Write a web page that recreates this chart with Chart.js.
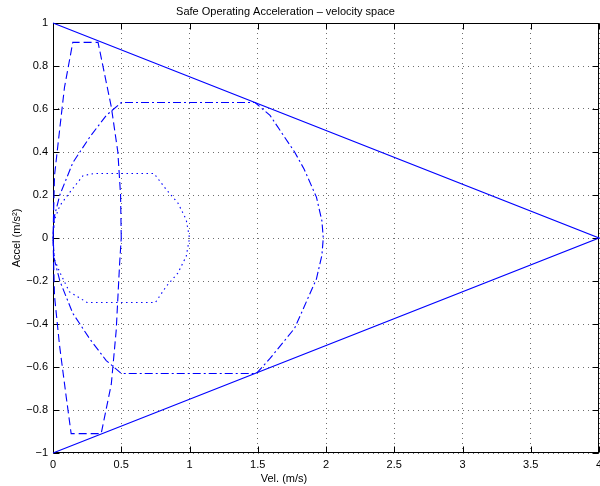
<!DOCTYPE html>
<html>
<head>
<meta charset="utf-8">
<script src="https://cdn.jsdelivr.net/npm/chart.js@4.4.0/dist/chart.umd.min.js"></script>
<style>
html, body { margin: 0; padding: 0; background: #fff; }
canvas { display: block; }
</style>
</head>
<body>
<canvas id="chart" width="600" height="486" style="width:600px;height:486px"></canvas>
<script>
const chartTitle = 'Safe Operating Acceleration \u2013 velocity space';
const xAxisLabel = 'Vel. (m/s)';
const yAxisLabel = 'Accel (m/s\u00b2)';

const xTicks = [0, 0.5, 1, 1.5, 2, 2.5, 3, 3.5, 4];
const xTickLabels = ['0', '0.5', '1', '1.5', '2', '2.5', '3', '3.5', '4'];
const yTicks = [-1, -0.8, -0.6, -0.4, -0.2, 0, 0.2, 0.4, 0.6, 0.8, 1];
const yTickLabels = ['\u22121', '\u22120.8', '\u22120.6', '\u22120.4', '\u22120.2', '0', '0.2', '0.4', '0.6', '0.8', '1'];

// solid envelope (triangle)
const envelopeVel = [0, 4, 0];
const envelopeAcc = [1, 0, -1];

// dashed region
const dashedVel = [0.5, 0.495, 0.475, 0.427, 0.33, 0.145, 0.084, 0.048, 0.011, 0, 0.011, 0.048, 0.097, 0.133, 0.353, 0.427, 0.463, 0.488, 0.5];
const dashedAcc = [0, 0.2, 0.4, 0.61, 0.91, 0.91, 0.7, 0.5, 0.29, 0, -0.27, -0.5, -0.74, -0.91, -0.91, -0.68, -0.43, -0.12, 0];

// dash-dot region
const dashDotVel = [0, 0.01, 0.05, 0.145, 0.27, 0.39, 0.5, 1.48, 1.59, 1.77, 1.84, 1.93, 1.97, 1.98, 1.97, 1.93, 1.84, 1.77, 1.59, 1.49, 0.5, 0.39, 0.27, 0.145, 0.05, 0.01, 0];
const dashDotAcc = [0, 0.1, 0.2, 0.35, 0.47, 0.57, 0.63, 0.63, 0.57, 0.40, 0.32, 0.19, 0.08, 0, -0.08, -0.19, -0.32, -0.42, -0.56, -0.63, -0.63, -0.57, -0.47, -0.35, -0.2, -0.1, 0];

// dotted region
const dottedVel = [0, 0.011, 0.05, 0.12, 0.22, 0.3, 0.74, 0.83, 0.915, 0.976, 1, 0.976, 0.915, 0.83, 0.75, 0.25, 0.12, 0.05, 0.011, 0];
const dottedAcc = [0, 0.085, 0.15, 0.21, 0.29, 0.3, 0.3, 0.225, 0.163, 0.085, 0, -0.085, -0.163, -0.225, -0.3, -0.3, -0.25, -0.16, -0.1, 0];

const BLUE = '#0000ff';
const FONT = "'Liberation Sans', Arial, Helvetica, sans-serif";
const TICK_LEN = 6;

function toPoints(xs, ys) {
    return xs.map((x, i) => ({ x: x, y: ys[i] }));
}

function lineSet(label, xs, ys, dash) {
    return {
        label: label,
        data: toPoints(xs, ys),
        showLine: true,
        borderColor: BLUE,
        borderWidth: 1.1,
        borderDash: dash,
        pointRadius: 0,
        tension: 0,
        fill: false,
        clip: false
    };
}

// frame, inward ticks and free-standing labels, matlab style
const matlabAxes = {
    id: 'matlabAxes',
    beforeDatasetsDraw(chart) {
        const { ctx, chartArea: a, scales: { x, y } } = chart;
        const L = Math.round(a.left) + 0.5, R = Math.round(a.right) - 0.5;
        const T = Math.round(a.top) + 0.5, B = Math.round(a.bottom) - 0.5;
        ctx.save();
        ctx.strokeStyle = '#000';
        ctx.lineWidth = 1;
        ctx.beginPath();
        xTicks.forEach(v => {
            const px = Math.round(x.getPixelForValue(v)) + 0.5;
            ctx.moveTo(px, B); ctx.lineTo(px, B - TICK_LEN);
            ctx.moveTo(px, T); ctx.lineTo(px, T + TICK_LEN);
        });
        yTicks.forEach(v => {
            const py = Math.round(y.getPixelForValue(v)) + 0.5;
            ctx.moveTo(L, py); ctx.lineTo(L + TICK_LEN, py);
            ctx.moveTo(R, py); ctx.lineTo(R - TICK_LEN, py);
        });
        ctx.stroke();
        ctx.strokeRect(L, T, R - L, B - T);
        ctx.restore();
    },
    afterDraw(chart) {
        const ctx = chart.ctx;
        ctx.save();
        ctx.fillStyle = '#000';
        ctx.font = '11px ' + FONT;
        ctx.textAlign = 'center';
        ctx.textBaseline = 'alphabetic';
        ctx.fillText(chartTitle, 285.5, 15);
        ctx.fillText(xAxisLabel, 284, 482);
        ctx.restore();
    }
};

Chart.defaults.font.family = FONT;
Chart.defaults.font.size = 11;
Chart.defaults.color = '#000';

new Chart(document.getElementById('chart'), {
    type: 'scatter',
    data: {
        datasets: [
            lineSet('envelope', envelopeVel, envelopeAcc, []),
            lineSet('dashed', dashedVel, dashedAcc, [8, 4]),
            lineSet('dash-dot', dashDotVel, dashDotAcc, [8, 3, 2, 3]),
            lineSet('dotted', dottedVel, dottedAcc, [1.5, 3.5])
        ]
    },
    options: {
        responsive: false,
        animation: false,
        layout: { padding: { top: 23, right: 1, bottom: 0, left: 0 } },
        plugins: {
            legend: { display: false },
            tooltip: { enabled: false },
            title: { display: false }
        },
        scales: {
            x: {
                type: 'linear',
                position: 'bottom',
                min: 0,
                max: 4,
                afterBuildTicks: s => { s.ticks = xTicks.map(v => ({ value: v })); },
                afterFit: s => { s.height = 33; s.paddingLeft = 0; s.paddingRight = 0; },
                ticks: {
                    padding: 5,
                    maxRotation: 0,
                    autoSkip: false,
                    callback: (v, i) => xTickLabels[i]
                },
                grid: { color: '#6e6e6e', lineWidth: 1, drawTicks: false },
                border: { display: false, dash: [1, 4] }
            },
            y: {
                type: 'linear',
                position: 'left',
                min: -1,
                max: 1,
                afterBuildTicks: s => { s.ticks = yTicks.map(v => ({ value: v })); },
                afterFit: s => { s.width = 53; s.paddingTop = 0; s.paddingBottom = 0; },
                ticks: {
                    padding: 5,
                    autoSkip: false,
                    callback: (v, i) => yTickLabels[i]
                },
                title: {
                    display: true,
                    text: yAxisLabel,
                    padding: { top: 10, bottom: 0 }
                },
                grid: { color: '#6e6e6e', lineWidth: 1, drawTicks: false },
                border: { display: false, dash: [1, 4] }
            }
        }
    },
    plugins: [matlabAxes]
});
</script>
</body>
</html>
